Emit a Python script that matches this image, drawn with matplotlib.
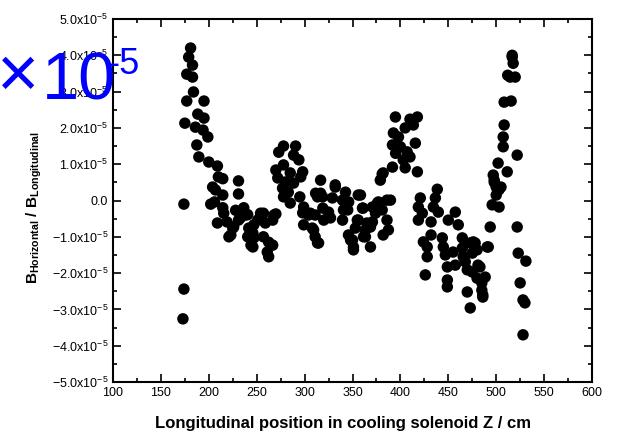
import numpy as np
import matplotlib
matplotlib.use("Agg")
import matplotlib.pyplot as plt
from matplotlib.ticker import MultipleLocator, FuncFormatter

plt.rcParams['font.family'] = ['Liberation Sans', 'DejaVu Sans']
plt.rcParams['mathtext.fontset'] = 'custom'
plt.rcParams['mathtext.rm'] = 'Liberation Sans'
plt.rcParams['mathtext.it'] = 'Liberation Sans:italic'
plt.rcParams['mathtext.bf'] = 'Liberation Sans:bold'

# Position along solenoid (cm) and field ratio (units of 1e-5)
z_cm = [
    181, 179, 183, 177, 183, 184, 177, 195, 188.5, 195, 175, 186, 194, 199, 187.5, 189.6,
    200, 209, 210, 214.6, 231, 204, 207, 231, 214.6, 174, 202, 206, 214.6, 215.6, 228,
    233, 209, 219, 225, 221, 174, 173,
    236.5, 240.6, 231, 223, 226, 246, 241.7, 247, 246, 254, 257, 251, 259, 270, 266.7,
    257, 262.5, 266.7, 262.5, 261, 240.6, 238.5, 268, 247, 244, 244,
    278, 290.6, 273, 288.5, 294, 278, 270, 298, 285, 272, 296, 280, 288.5, 277, 283,
    278, 295, 285, 313.5, 299, 298, 304, 299, 308, 311, 313.5, 316.7,
    391.7, 395, 382, 379, 332, 342.7, 356, 316.7, 329, 339.6, 346, 377, 386, 370.8,
    361, 319, 325, 345, 381, 311, 327, 339.6, 356, 365, 370.8, 386, 353, 363.5, 368.75,
    387.5, 345.8, 382, 350, 363.5, 314.6, 351, 368.75, 351,
    394.8, 410, 417.7, 392.7, 398, 405, 413.5, 400, 407, 415.6, 403, 410, 391.7, 405,
    417.7, 381, 311.5, 318.75, 332, 358.3, 306, 309.4, 320, 340.6, 348, 360.4, 355,
    365.6, 361.5, 376, 374, 389.6,
    438.5, 420.8, 436.5, 418.75, 434.4, 422.9, 439.6, 418.75, 432, 457.3, 450, 460.4,
    424, 432, 428, 428, 443.75, 444.8, 446.9, 464.6, 464.6, 455, 449, 457.3, 465.6, 426,
    449, 449, 472.9, 478, 475, 467.7, 469.8, 475, 481, 480, 485, 488.5, 485, 486, 469.8,
    472.9, 491.7, 493.75, 495.8, 496.9, 502, 511.5, 497.9, 500, 505, 500, 503, 507.3,
    507.3, 508.3, 521.9, 508.3, 515.6, 521.9, 523, 531, 525, 528, 530, 528,
    516.7, 517.7, 514.6, 519.8, 516.7, 476, 480, 490.6, 483, 486, 498, 503, 512,
]
ratio_e5 = [
    4.2, 3.95, 3.73, 3.48, 3.4, 2.99, 2.74, 2.74, 2.38, 2.27, 2.13, 2.02, 1.94, 1.75, 1.53, 1.2,
    1.06, 0.95, 0.65, 0.6, 0.54, 0.37, 0.29, 0.18, 0.15, -0.1, -0.1, -0.04, -0.2, -0.35, -0.27,
    -0.48, -0.62, -0.59, -0.76, -1.0, -2.44, -3.26,
    -0.2, -0.39, -0.54, -0.95, -0.73, -0.9, -0.76, -1.03, -1.28, -0.35, -0.35, -0.54, -0.62, -0.37, -0.54,
    -1.0, -1.15, -1.23, -1.55, -1.42, -1.0, -0.4, -0.4, -0.67, -1.0, -1.23,
    1.5, 1.5, 1.33, 1.25, 1.12, 0.98, 0.84, 0.79, 0.76, 0.62, 0.65, 0.51, 0.48, 0.34, 0.23,
    0.1, 0.1, -0.07, 0.1, -0.18, -0.34, -0.4, -0.67, -0.76, -1.0, -1.17, 0.56,
    1.53, 1.3, 0.76, 0.56, 0.43, 0.23, 0.15, 0.2, 0.07, 0.01, -0.04, -0.04, 0.01, -0.18,
    -0.21, -0.21, -0.32, -0.26, -0.26, -0.4, -0.48, -0.54, -0.54, -0.62, -0.59, -0.54, -0.76, -0.81, -0.73,
    -0.81, -0.95, -0.95, -1.09, -1.0, -1.17, -1.28, -1.28, -1.36,
    2.3, 2.24, 2.3, 1.86, 1.75, 2.0, 2.08, 1.48, 1.34, 1.58, 1.12, 1.2, 0.92, 0.9,
    0.79, 0.73, 0.2, 0.1, 0.37, 0.15, -0.35, -0.81, -0.54, -0.26, -1.09, -0.21, -0.54,
    -0.73, -1.0, -0.07, -0.35, 0.01,
    0.31, 0.07, 0.07, -0.18, -0.18, -0.35, -0.32, -0.54, -0.59, -0.32, -0.54, -0.67,
    -1.14, -0.95, -1.28, -1.55, -1.03, -1.28, -1.5, -1.03, -1.31, -1.42, -1.83, -1.78, -1.55, -2.05,
    -2.19, -2.38, -1.17, -1.17, -1.45, -1.69, -1.91, -1.97, -1.78, -2.14, -2.27, -2.11, -2.47, -2.66, -2.52,
    -2.96, -1.28, -0.73, -0.12, 0.7, 1.03, 0.79, 0.56, 0.37, 0.37, 0.15, -0.18, 1.48,
    1.75, 2.08, 1.25, 2.71, 2.74, -0.73, -1.45, -1.67, -2.27, -2.74, -2.82, -3.7,
    3.95, 3.78, 3.4, 3.4, 4.0, -1.14, -1.36, -1.28, -1.83, -2.6, 0.5, 0.3, 3.45,
]
n = min(len(z_cm), len(ratio_e5))
z = np.array(z_cm[:n])
r = np.array(ratio_e5[:n]) * 1e-5

x_ticks = [100, 150, 200, 250, 300, 350, 400, 450, 500, 550, 600]
y_tick_vals = [5, 4, 3, 2, 1, 0, -1, -2, -3, -4, -5]

fig = plt.figure(figsize=(6.17, 4.33), dpi=100)
ax = fig.add_axes([113/617, 1 - 382/433, 479/617, 363/433])
ax.scatter(z, r, s=68, c='black', edgecolors='none', zorder=3)

ax.set_xlim(100, 600)
ax.set_ylim(-5e-5, 5e-5)
ax.set_xticks(x_ticks)
ax.xaxis.set_minor_locator(MultipleLocator(25))
ax.set_yticks([v * 1e-5 for v in y_tick_vals])
ax.yaxis.set_minor_locator(MultipleLocator(0.5e-5))

def yfmt(v, pos):
    m = v / 1e-5
    if abs(m) < 1e-9:
        return '0.0'
    return r'$\mathrm{%.1fx10^{-5}}$' % m

ax.yaxis.set_major_formatter(FuncFormatter(yfmt))
ax.tick_params(which='both', direction='in', top=True, right=True, labelsize=9, width=1.2)
ax.tick_params(which='major', length=6)
ax.tick_params(which='minor', length=3)
for s in ax.spines.values():
    s.set_linewidth(1.5)

ax.set_xlabel('Longitudinal position in cooling solenoid Z / cm', fontsize=12,
              fontweight='bold')
ax.xaxis.set_label_coords(0.481, -0.093)
ax.set_ylabel(r'$\mathbf{B_{Horizontal}\ /\ B_{Longitudinal}}$', fontsize=11)
ax.yaxis.set_label_coords(-0.145, 0.48)

fig.text(-3/617, 1 - 97/433, '×', color='blue', fontsize=52, ha='left', va='baseline')
fig.text(42/617, 1 - 99/433, '10', color='blue', fontsize=48, ha='left', va='baseline')
fig.text(107/617, 1 - 74/433, '-5', color='blue', fontsize=26, ha='left', va='baseline')

fig.savefig('out.png', dpi=100)
